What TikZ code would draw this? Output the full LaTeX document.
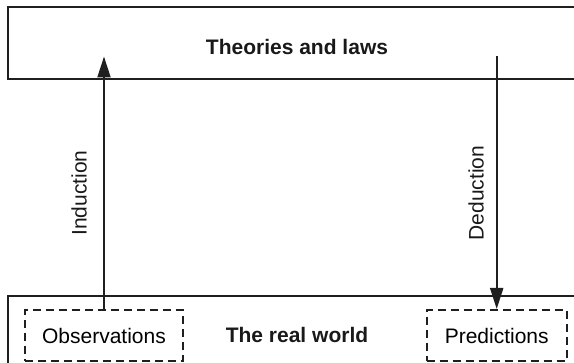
\documentclass[tikz,border=0pt]{standalone}
\usepackage{fontspec}
\setmainfont{Liberation Sans}
\usetikzlibrary{arrows.meta}
\tikzset{
  frame/.style={draw=black!88, line width=2pt},
  dashbox/.style={draw=black!88, line width=2pt, dash pattern=on 8pt off 5pt, minimum height=51pt, inner sep=0pt, font=\fontsize{21}{25}\selectfont},
  boldlabel/.style={font=\fontsize{21}{25}\selectfont\bfseries, text=black!90},
  sidelabel/.style={font=\fontsize{21}{25}\selectfont, rotate=90, text=black!90},
  arr/.style={draw=black!88, line width=2pt, -{Triangle[length=21pt,width=13pt]}}
}
\begin{document}
\begin{tikzpicture}[x=1pt,y=-1pt]
\useasboundingbox (0,0) rectangle (574,363);
\clip (0,0) rectangle (574,363);
% frames
\draw[frame] (600,7.5) -- (7.5,7.5) -- (7.5,79) -- (600,79);
\draw[frame] (600,296) -- (7.5,296) -- (7.5,380);
% texts
\node[boldlabel] (theories) at (297,47) {Theories and laws};
\node[boldlabel] (world) at (297,335) {The real world};
\node[dashbox, minimum width=158pt] (obs) at (104,335.5) {Observations};
\node[dashbox, minimum width=140pt] (pred) at (496.7,335.5) {Predictions};
% free ends
\coordinate (indtop) at (104,56.5);
\coordinate (dedtop) at (496.7,56);
\draw[arr] (obs.north) -- (indtop);
\draw[arr] (dedtop) -- (pred.north);
\node[sidelabel] (ind) at (79,193) {Induction};
\node[sidelabel] (ded) at (476,193) {Deduction};
\end{tikzpicture}
\end{document}
